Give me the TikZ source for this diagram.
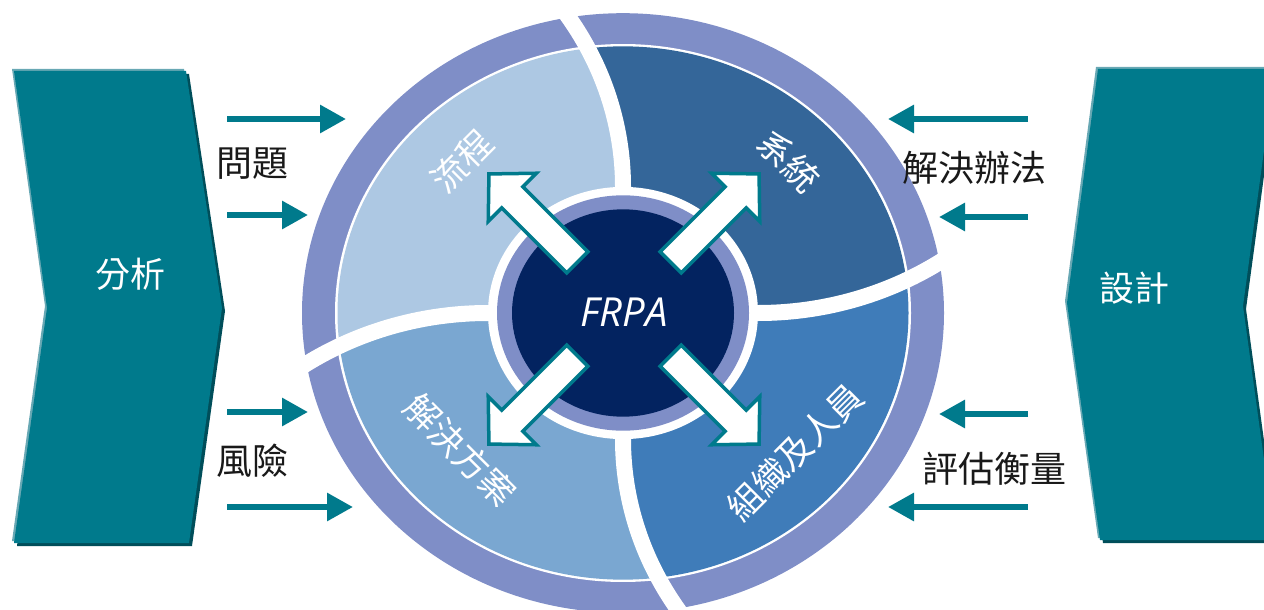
\documentclass[tikz,border=0pt]{standalone}
\usepackage{fontspec}
\setmainfont{Open Sans}
\newfontfamily\cjk{Noto Sans CJK TC}
\usetikzlibrary{arrows.meta}
\definecolor{tealc}{RGB}{0,122,140}
\definecolor{teallight}{RGB}{104,168,180}
\definecolor{tealdark}{RGB}{0,78,90}
\definecolor{lav}{RGB}{127,142,199}
\definecolor{qul}{RGB}{173,200,227}
\definecolor{qur}{RGB}{52,102,153}
\definecolor{qll}{RGB}{122,167,209}
\definecolor{qlr}{RGB}{63,124,185}
\definecolor{navyc}{RGB}{3,35,96}
\definecolor{txt}{RGB}{25,25,25}
\begin{document}
\begin{tikzpicture}[x=1pt,y=-1pt,
  sidearrow/.style={draw=tealc, line width=6pt, -{Triangle[length=26pt,width=27pt]}},
  blocky/.style={fill=white, draw=tealc, line width=3.5pt, line join=miter},
  sepband/.style={draw=white, line width=16pt},
  blacklabel/.style={font=\cjk\fontsize{36}{36}\selectfont, text=txt, inner sep=0pt},
  chevlabel/.style={font=\cjk\fontsize{35}{35}\selectfont, text=white, inner sep=0pt},
  qlabel/.style={font=\cjk\fontsize{35}{35}\selectfont, text=white, inner sep=0pt},
]
\useasboundingbox (0,0) rectangle (1264,610);

% ---------- left chevron ----------
\fill[tealdark] (17,74) -- (189,74) -- (225,311) -- (192,546) -- (17,546) -- (50,311) -- cycle;
\fill[teallight] (12,69) -- (184,69) -- (220,306) -- (187,541) -- (12,541) -- (45,306) -- cycle;
\fill[tealc] (14,71) -- (186,71) -- (222,308) -- (189,543) -- (14,543) -- (47,308) -- cycle;
\node[chevlabel] (analysis) at (130,274) {分析};

% ---------- right chevron ----------
\fill[tealdark] (1101,72) -- (1278,72) -- (1246,309) -- (1278,543) -- (1103,543) -- (1070,306) -- cycle;
\fill[teallight] (1096,67) -- (1273,67) -- (1241,304) -- (1273,538) -- (1098,538) -- (1065,301) -- cycle;
\fill[tealc] (1098,69) -- (1275,69) -- (1243,306) -- (1275,540) -- (1100,540) -- (1067,303) -- cycle;
\node[chevlabel] (design) at (1134,288) {設計};

% ---------- circle ----------
\begin{scope}[shift={(623,313)}, yscale=-0.934]
  \fill[lav] (0,0) circle[radius=321pt];
  \fill[white] (0,0) circle[radius=288pt];
  \begin{scope}
    \clip (0,0) circle[radius=285.5pt];
    \fill[qul] (0,0) -- (0,135) .. controls (0,204.7) and (-22,272.6) .. (-63,329)
      -- (-450,450) -- (-450,-90) -- (-329,-63) .. controls (-272.6,-22) and (-204.7,0) .. (-135,0) -- cycle;
    \fill[qll] (0,0) -- (-135,0) .. controls (-204.7,0) and (-272.6,-22) .. (-329,-63)
      -- (-450,-450) -- (90,-450) -- (63,-329) .. controls (22,-272.6) and (0,-204.7) .. (0,-135) -- cycle;
    \fill[qlr] (0,0) -- (0,-135) .. controls (0,-204.7) and (22,-272.6) .. (63,-329)
      -- (450,-450) -- (450,90) -- (329,63) .. controls (272.6,22) and (204.7,0) .. (135,0) -- cycle;
    \fill[qur] (0,0) -- (135,0) .. controls (204.7,0) and (272.6,22) .. (329,63)
      -- (450,450) -- (-90,450) -- (-63,329) .. controls (-22,272.6) and (0,204.7) .. (0,135) -- cycle;
  \end{scope}
  \draw[sepband] (0,120) -- (0,135) .. controls (0,204.7) and (-22,272.6) .. (-63,329);
  \draw[sepband] (-120,0) -- (-135,0) .. controls (-204.7,0) and (-272.6,-22) .. (-329,-63);
  \draw[sepband] (0,-120) -- (0,-135) .. controls (0,-204.7) and (22,-272.6) .. (63,-329);
  \draw[sepband] (120,0) -- (135,0) .. controls (204.7,0) and (272.6,22) .. (329,63);
  \fill[white] (0,0) circle[radius=135pt];
  \fill[lav] (0,0) circle[radius=126pt];
  \fill[navyc] (0,0) circle[radius=111pt];
\end{scope}

% ---------- centre block arrows ----------
\foreach \ang in {45,135,225,315}{
  \begin{scope}[shift={(624,309)}, rotate=\ang]
    \draw[blocky] (66,-15) -- (158,-15) -- (158,-34) -- (191,0) -- (158,34) -- (158,15) -- (66,15) -- cycle;
  \end{scope}
}
\node[font=\itshape\fontsize{40}{40}\selectfont, text=white, inner sep=0pt] (frpa) at (624,312) {FRPA};

% ---------- quadrant labels ----------
\node[qlabel, rotate=45] (process) at (462,161) {流程};
\node[qlabel, rotate=-45] (system) at (789,161) {系統};
\node[qlabel, rotate=-45] (solution) at (460,450) {解決方案};
\node[qlabel, rotate=45] (org) at (795,452) {組織及人員};

% ---------- side arrows ----------
\coordinate (la1s) at (227,119); \coordinate (la1e) at (346,119);
\coordinate (la2s) at (227,215); \coordinate (la2e) at (308,215);
\coordinate (la3s) at (227,412); \coordinate (la3e) at (308,412);
\coordinate (la4s) at (227,507); \coordinate (la4e) at (353,507);
\draw[sidearrow] (la1s) -- (la1e);
\draw[sidearrow] (la2s) -- (la2e);
\draw[sidearrow] (la3s) -- (la3e);
\draw[sidearrow] (la4s) -- (la4e);
\coordinate (ra1s) at (1028,119); \coordinate (ra1e) at (888,119);
\coordinate (ra2s) at (1028,217); \coordinate (ra2e) at (939,217);
\coordinate (ra3s) at (1028,414); \coordinate (ra3e) at (939,414);
\coordinate (ra4s) at (1028,507); \coordinate (ra4e) at (888,507);
\draw[sidearrow] (ra1s) -- (ra1e);
\draw[sidearrow] (ra2s) -- (ra2e);
\draw[sidearrow] (ra3s) -- (ra3e);
\draw[sidearrow] (ra4s) -- (ra4e);

% ---------- side labels ----------
\node[blacklabel] (problem) at (252,164) {問題};
\node[blacklabel] (risk) at (252,461) {風險};
\node[blacklabel] (solve) at (974,168) {解決辦法};
\node[blacklabel] (measure) at (994,469) {評估衡量};
\end{tikzpicture}
\end{document}
